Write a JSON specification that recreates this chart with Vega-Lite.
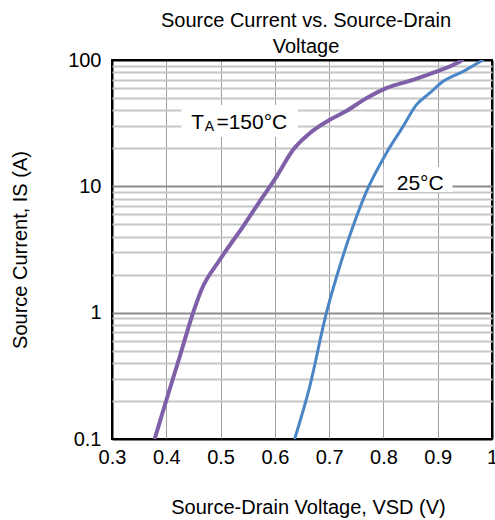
{
  "$schema": "https://vega.github.io/schema/vega-lite/v6.json",
  "width": 380,
  "height": 379,
  "autosize": {"type": "none"},
  "padding": {"left": 112, "top": 60, "right": 3, "bottom": 81},
  "config": {
    "font": "Liberation Sans",
    "view": {"stroke": "#000000", "strokeWidth": 2},
    "axis": {"labelColor": "#000", "titleColor": "#000", "labelFont": "Liberation Sans", "titleFont": "Liberation Sans"}
  },
  "title": {
    "text": ["Source Current vs. Source-Drain", "Voltage"],
    "fontSize": 20,
    "fontWeight": "normal",
    "color": "#000",
    "anchor": "middle",
    "frame": "group",
    "lineHeight": 26,
    "offset": 4,
    "dx": 4,
    "dy": 11
  },
  "datasets": {
    "curves": [
      {"series": "150", "v": 0.3786, "i": 0.1},
      {"series": "150", "v": 0.4002, "i": 0.2036},
      {"series": "150", "v": 0.4247, "i": 0.448},
      {"series": "150", "v": 0.4492, "i": 0.99},
      {"series": "150", "v": 0.4646, "i": 1.51},
      {"series": "150", "v": 0.4983, "i": 2.61},
      {"series": "150", "v": 0.5413, "i": 4.8},
      {"series": "150", "v": 0.578, "i": 8.28},
      {"series": "150", "v": 0.6028, "i": 11.9},
      {"series": "150", "v": 0.6333, "i": 19.4},
      {"series": "150", "v": 0.6641, "i": 26.3},
      {"series": "150", "v": 0.7009, "i": 33.6},
      {"series": "150", "v": 0.7317, "i": 39.5},
      {"series": "150", "v": 0.7685, "i": 49.8},
      {"series": "150", "v": 0.8053, "i": 59.8},
      {"series": "150", "v": 0.8543, "i": 69.6},
      {"series": "150", "v": 0.8974, "i": 80.9},
      {"series": "150", "v": 0.94, "i": 97},
      {"series": "150", "v": 0.945, "i": 100},
      {"series": "25", "v": 0.6365, "i": 0.1},
      {"series": "25", "v": 0.6641, "i": 0.259},
      {"series": "25", "v": 0.6948, "i": 0.99},
      {"series": "25", "v": 0.7193, "i": 2.31},
      {"series": "25", "v": 0.7438, "i": 4.8},
      {"series": "25", "v": 0.7715, "i": 9.66},
      {"series": "25", "v": 0.8053, "i": 18.3},
      {"series": "25", "v": 0.836, "i": 29.7},
      {"series": "25", "v": 0.8606, "i": 44.1},
      {"series": "25", "v": 0.8851, "i": 54.6},
      {"series": "25", "v": 0.9096, "i": 67.5},
      {"series": "25", "v": 0.9464, "i": 80.9},
      {"series": "25", "v": 0.983, "i": 100}
    ],
    "boxes": [
      {"box": "150", "v": 0.4278, "v2": 0.6425, "i": 24.6, "i2": 44.1},
      {"box": "25", "v": 0.8004, "v2": 0.9274, "i": 9.03, "i2": 14.24}
    ],
    "labels": [
      {"text": "T", "v": 0.4462, "i": 28.3},
      {"text": "=150°C", "v": 0.4923, "i": 28.3},
      {"text": "25°C", "v": 0.8245, "i": 9.37}
    ],
    "subs": [
      {"text": "A", "v": 0.4707, "i": 27.2}
    ]
  },
  "encoding": {
    "x": {
      "field": "v",
      "type": "quantitative",
      "scale": {"domain": [0.3, 1.0], "nice": false, "zero": false},
      "axis": {
        "values": [0.3, 0.4, 0.5, 0.6, 0.7, 0.8, 0.9, 1.0],
        "labelExpr": "datum.value == 1 ? '1' : format(datum.value, '.1f')",
        "labelFontSize": 20,
        "labelPadding": 8,
        "labelFlush": false,
        "labelOverlap": false,
        "ticks": false,
        "domain": false,
        "grid": true,
        "gridColor": {"condition": {"test": "datum.value < 0.31 || datum.value > 0.99", "value": "#000000"}, "value": "#a0a0a0"},
        "gridWidth": {"condition": {"test": "datum.value < 0.31 || datum.value > 0.99", "value": 2}, "value": 1},
        "gridOpacity": 1,
        "title": "Source-Drain Voltage, VSD (V)",
        "titleFontSize": 20,
        "titleFontWeight": "normal",
        "titleX": 196,
        "titleY": 74,
        "titleAlign": "center",
        "titleBaseline": "alphabetic"
      }
    },
    "y": {
      "field": "i",
      "type": "quantitative",
      "scale": {"type": "log", "domain": [0.1, 100], "nice": false},
      "axis": {
        "values": [0.1, 0.2, 0.3, 0.4, 0.5, 0.6, 0.7, 0.8, 0.9, 1, 2, 3, 4, 5, 6, 7, 8, 9, 10, 20, 30, 40, 50, 60, 70, 80, 90, 100],
        "labelExpr": "datum.value == 0.1 ? '0.1' : datum.value == 1 ? '1' : datum.value == 10 ? '10' : datum.value == 100 ? '100' : ''",
        "labelFontSize": 20,
        "labelPadding": 11,
        "labelFlush": false,
        "labelOverlap": false,
        "ticks": false,
        "domain": false,
        "grid": true,
        "gridColor": {"condition": [{"test": "datum.value < 0.11 || datum.value > 99", "value": "#000000"}, {"test": "datum.value == 1 || datum.value == 10", "value": "#8c8c8c"}], "value": "#c6c6c6"},
        "gridWidth": 2,
        "gridOpacity": 1,
        "title": "Source Current, IS (A)",
        "titleFontSize": 20,
        "titleFontWeight": "normal",
        "titleAngle": -90,
        "titleX": -92,
        "titleY": 189.5,
        "titleAlign": "center",
        "titleBaseline": "middle"
      }
    }
  },
  "layer": [
    {
      "data": {"name": "curves"},
      "mark": {"type": "line", "interpolate": "monotone", "clip": true, "strokeCap": "round", "strokeJoin": "round"},
      "encoding": {
        "color": {"field": "series", "type": "nominal", "scale": {"domain": ["150", "25"], "range": ["#7f60a8", "#4a86c6"]}, "legend": null},
        "strokeWidth": {"field": "series", "type": "nominal", "scale": {"domain": ["150", "25"], "range": [4, 3]}, "legend": null}
      }
    },
    {
      "data": {"name": "boxes"},
      "mark": {"type": "rect", "fill": "#ffffff"},
      "encoding": {
        "x2": {"field": "v2"},
        "y2": {"field": "i2"}
      }
    },
    {
      "data": {"name": "labels"},
      "mark": {"type": "text", "align": "left", "baseline": "alphabetic", "fontSize": 21, "color": "#000"},
      "encoding": {"text": {"field": "text"}}
    },
    {
      "data": {"name": "subs"},
      "mark": {"type": "text", "align": "left", "baseline": "alphabetic", "fontSize": 14, "color": "#000"},
      "encoding": {"text": {"field": "text"}}
    }
  ]
}
